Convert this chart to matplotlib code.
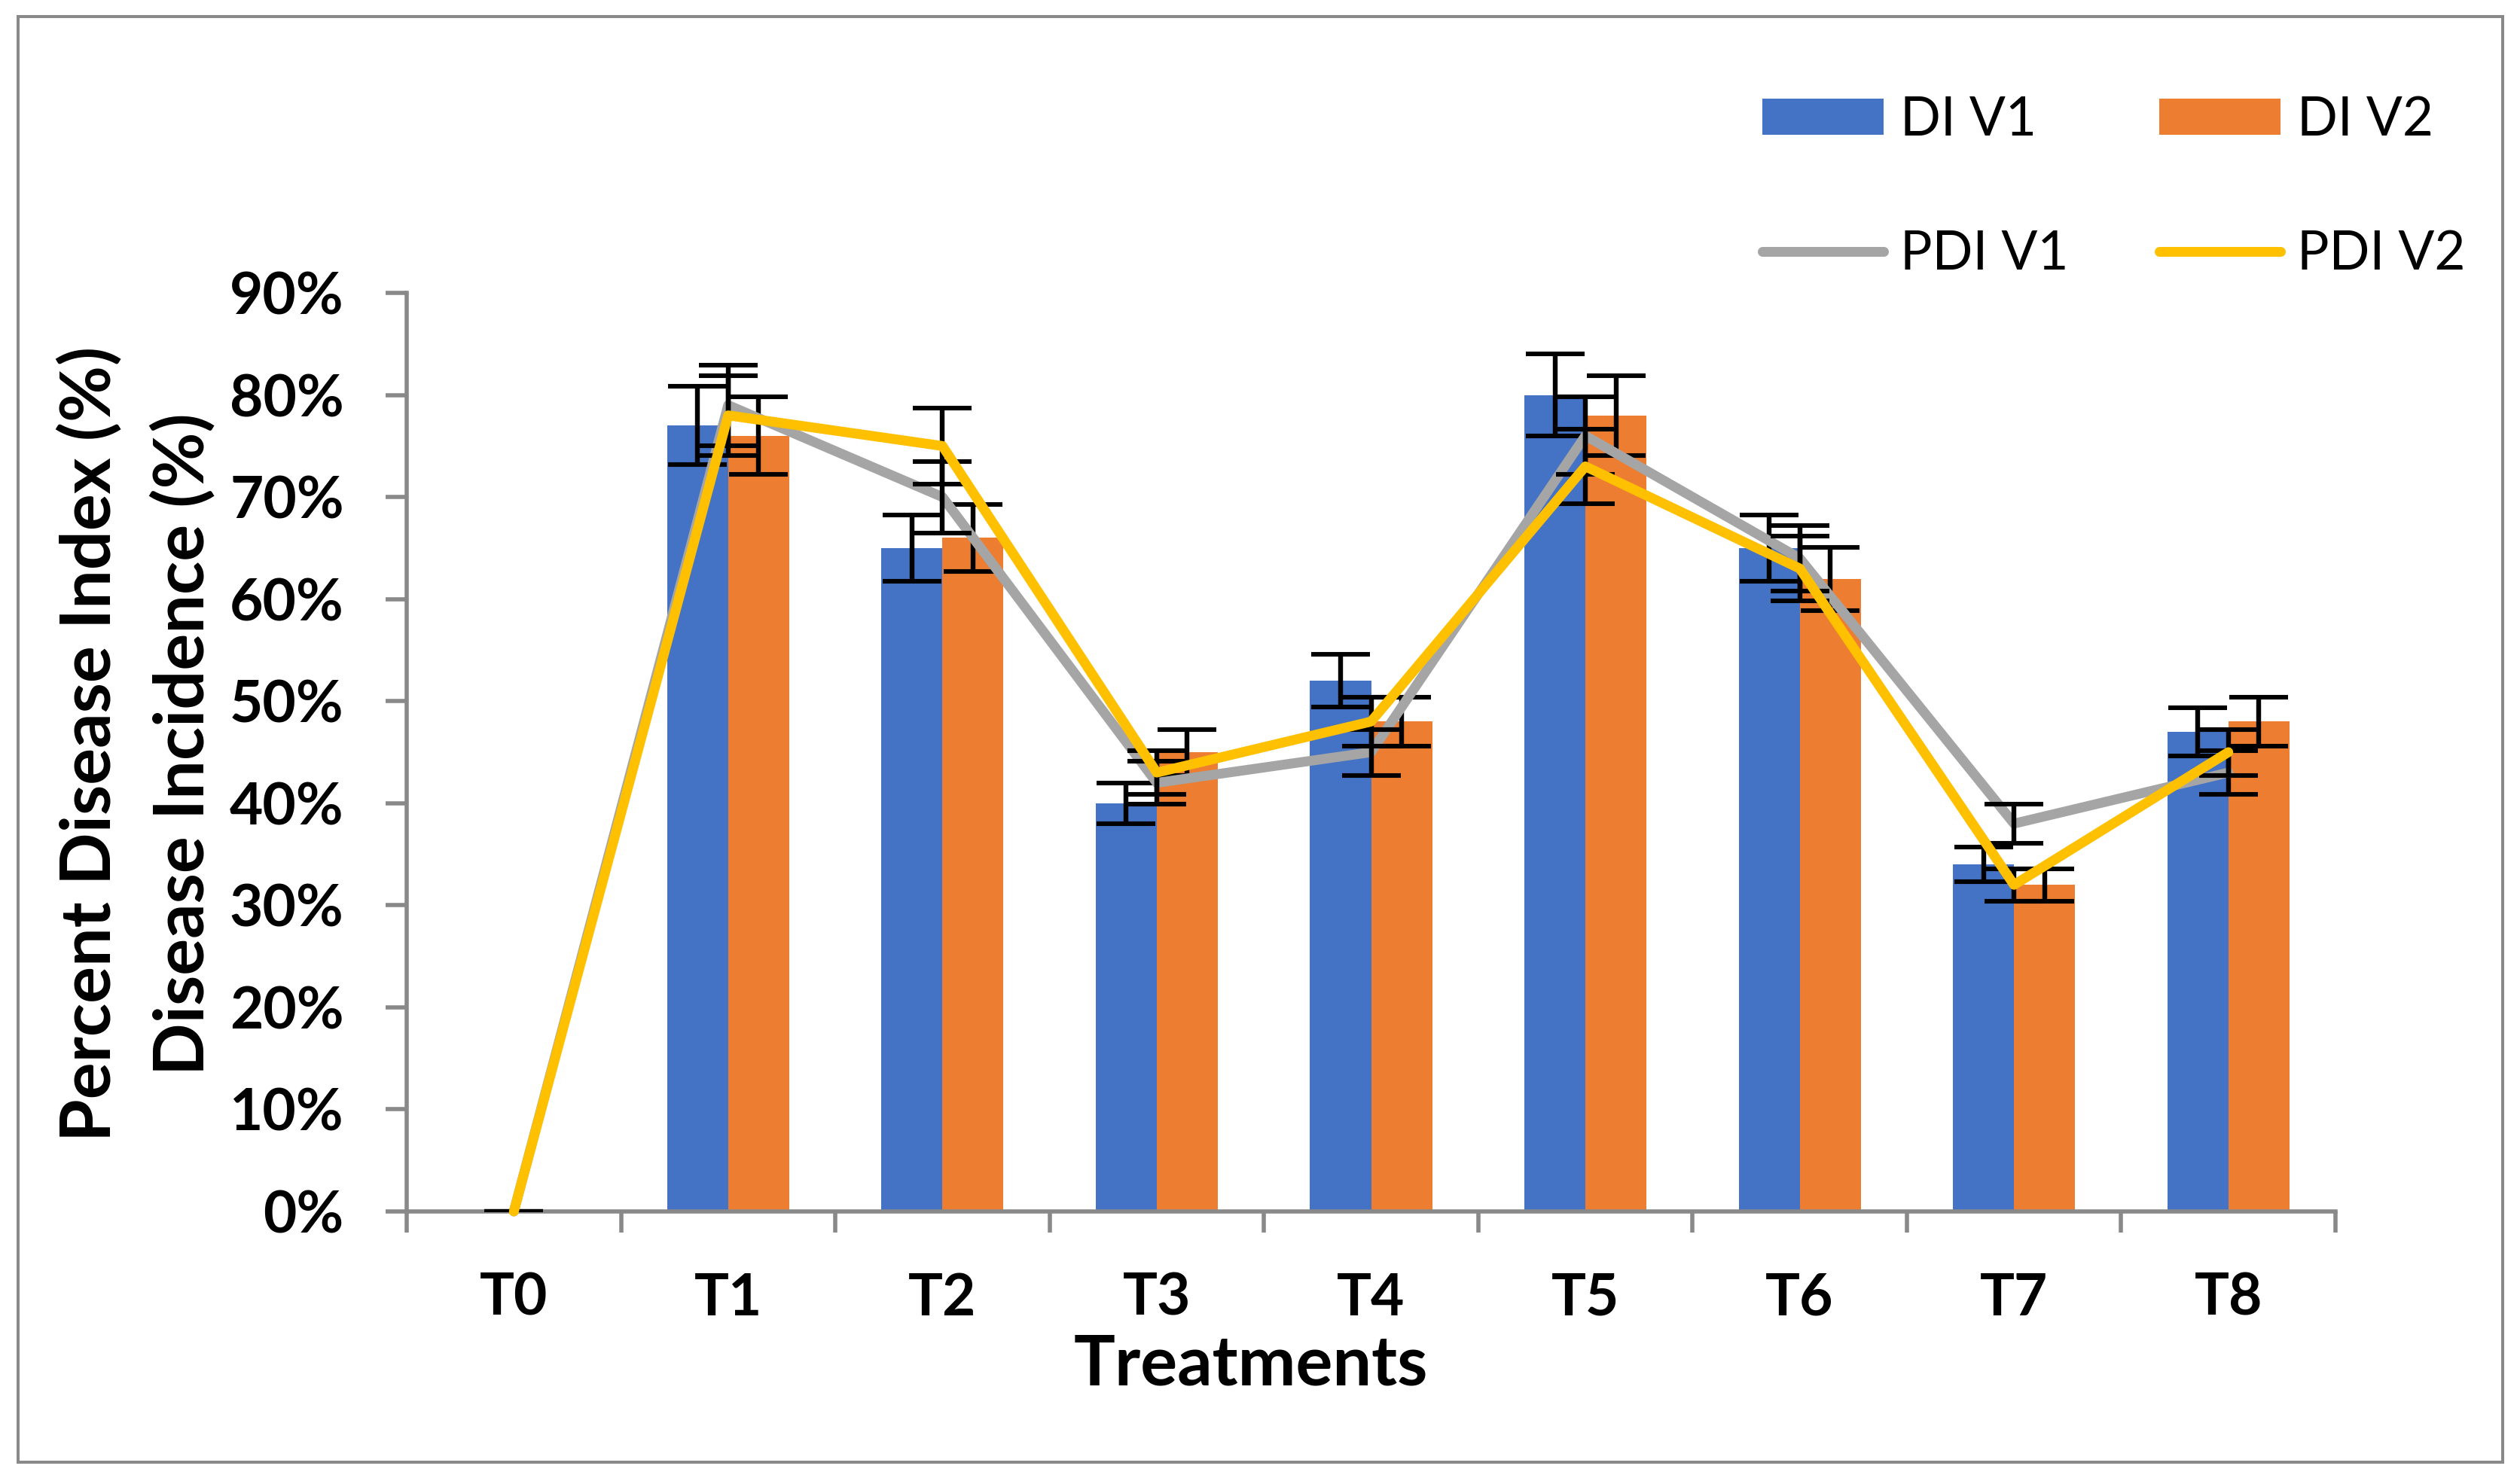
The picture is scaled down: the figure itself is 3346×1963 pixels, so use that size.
import numpy as np
import matplotlib
matplotlib.use("Agg")
import matplotlib.pyplot as plt
from matplotlib.patches import Patch, Rectangle
from matplotlib.lines import Line2D
from matplotlib.ticker import FuncFormatter, FixedLocator

# ---------------- data ----------------
treatments = ["T0", "T1", "T2", "T3", "T4", "T5", "T6", "T7", "T8"]
di_v1 = [0, 77, 65, 40, 52, 80, 65, 34, 47]
di_v2 = [0, 76, 66, 45, 48, 78, 62, 32, 48]
pdi_v1 = [0, 79, 70, 42, 45, 76, 64, 38, 43]
pdi_v2 = [0, 78, 75, 43, 48, 73, 63, 32, 45]
di_v1_err = [0, 3.85, 3.25, 2.0, 2.6, 4.0, 3.25, 1.7, 2.35]
di_v2_err = [0, 3.8, 3.3, 2.25, 2.4, 3.9, 3.1, 1.6, 2.4]
pdi_v1_err = [0, 3.95, 3.5, 2.1, 2.25, 3.8, 3.2, 1.9, 2.15]
pdi_v2_err = [0, 3.9, 3.75, 2.15, 2.4, 3.65, 3.15, 1.6, 2.25]
series_labels = ["DI V1", "DI V2", "PDI V1", "PDI V2"]
y_ticks = [0, 10, 20, 30, 40, 50, 60, 70, 80, 90]

# ---------------- style ----------------
W, H, DPI = 3346, 1963, 200
FONT = "Lato"
C_BLUE, C_ORANGE, C_GRAY, C_YEL = "#4472C4", "#ED7D31", "#A5A5A5", "#FFC000"
AXC = "#898989"

fig = plt.figure(figsize=(W / DPI, H / DPI), dpi=DPI)
fig.patch.set_facecolor("white")

def fx(px):
    return px / W

def fy(py):
    return 1 - py / H

ax = fig.add_axes([fx(540), fy(1609), fx(3101) - fx(540), fy(389) - fy(1609)])

x = np.arange(len(treatments))
bw = 0.285

ax.bar(x - bw / 2, di_v1, width=bw, color=C_BLUE, zorder=2)
ax.bar(x + bw / 2, di_v2, width=bw, color=C_ORANGE, zorder=2)

eb_kw = dict(fmt="none", ecolor="black", elinewidth=2.3, capsize=14, capthick=2.2, zorder=3)
v1 = np.array(di_v1, float)
v2 = np.array(di_v2, float)
m1 = v1 > 0
m2 = v2 > 0
ax.errorbar((x - bw / 2)[m1], v1[m1], yerr=np.array(di_v1_err)[m1], **eb_kw)
ax.errorbar((x + bw / 2)[m2], v2[m2], yerr=np.array(di_v2_err)[m2], **eb_kw)

LW = 4.7
ax.plot(x, pdi_v1, color=C_GRAY, lw=LW, solid_joinstyle="round",
        solid_capstyle="round", zorder=4, clip_on=False)
ax.errorbar(x, pdi_v1, yerr=pdi_v1_err, **dict(eb_kw, zorder=4.5))
ax.plot(x, pdi_v2, color=C_YEL, lw=LW, solid_joinstyle="round",
        solid_capstyle="round", zorder=5, clip_on=False)
ax.errorbar(x, pdi_v2, yerr=pdi_v2_err, **dict(eb_kw, zorder=4.5))

ax.set_xlim(-0.5, len(treatments) - 0.5)
ax.set_ylim(0, 90)

for s in ["top", "right"]:
    ax.spines[s].set_visible(False)
for s in ["left", "bottom"]:
    ax.spines[s].set_color(AXC)
    ax.spines[s].set_linewidth(2.0)

ax.yaxis.set_major_locator(FixedLocator(y_ticks))
ax.yaxis.set_major_formatter(FuncFormatter(lambda v, p: f"{v:.0f}%"))
ax.tick_params(axis="y", direction="out", length=10, width=2.0, color=AXC,
               pad=20, labelsize=27.6, labelcolor="black")
for lab in ax.get_yticklabels():
    lab.set_fontfamily(FONT)
    lab.set_fontweight("bold")

ax.set_xticks(x)
ax.set_xticklabels(treatments)
ax.set_xticks(np.arange(-0.5, len(treatments)), minor=True)
ax.tick_params(axis="x", which="major", length=0, pad=29, labelsize=27.6)
ax.tick_params(axis="x", which="minor", direction="out", length=10, width=2.0, color=AXC)
for lab in ax.get_xticklabels():
    lab.set_fontfamily(FONT)
    lab.set_fontweight("bold")

# axis titles
TS = 33
fig.text(fx(1661), fy(1840), "Treatments", ha="center", va="baseline",
         fontsize=TS, fontweight="bold", family=FONT)
fig.text(fx(146), fy(988), "Percent Disease Index (%)", rotation=90,
         rotation_mode="anchor", ha="center", va="baseline",
         fontsize=TS, fontweight="bold", family=FONT)
fig.text(fx(270), fy(988), "Disease Incidence (%)", rotation=90,
         rotation_mode="anchor", ha="center", va="baseline",
         fontsize=TS, fontweight="bold", family=FONT)

# legend
handles = [
    Patch(facecolor=C_BLUE, edgecolor="none"),
    Line2D([], [], color=C_GRAY, lw=LW, solid_capstyle="round"),
    Patch(facecolor=C_ORANGE, edgecolor="none"),
    Line2D([], [], color=C_YEL, lw=LW, solid_capstyle="round"),
]
labels = [series_labels[0], series_labels[2], series_labels[1], series_labels[3]]
LFS = 25.5
lem = LFS * DPI / 72
fig.legend(handles, labels, ncol=2, loc="upper left",
           bbox_to_anchor=(fx(2340), fy(127)), frameon=False,
           prop={"family": FONT, "size": LFS},
           handlelength=161 / lem, handleheight=47 / lem, handletextpad=22 / lem,
           columnspacing=1.7, labelspacing=1.6, borderpad=0, borderaxespad=0)

# chart border
fig.add_artist(Rectangle((fx(24), fy(1942)), fx(3323) - fx(24), fy(22) - fy(1942),
                         transform=fig.transFigure, fill=False, edgecolor=AXC,
                         linewidth=1.45))

fig.savefig("out.png", dpi=DPI, facecolor="white")
